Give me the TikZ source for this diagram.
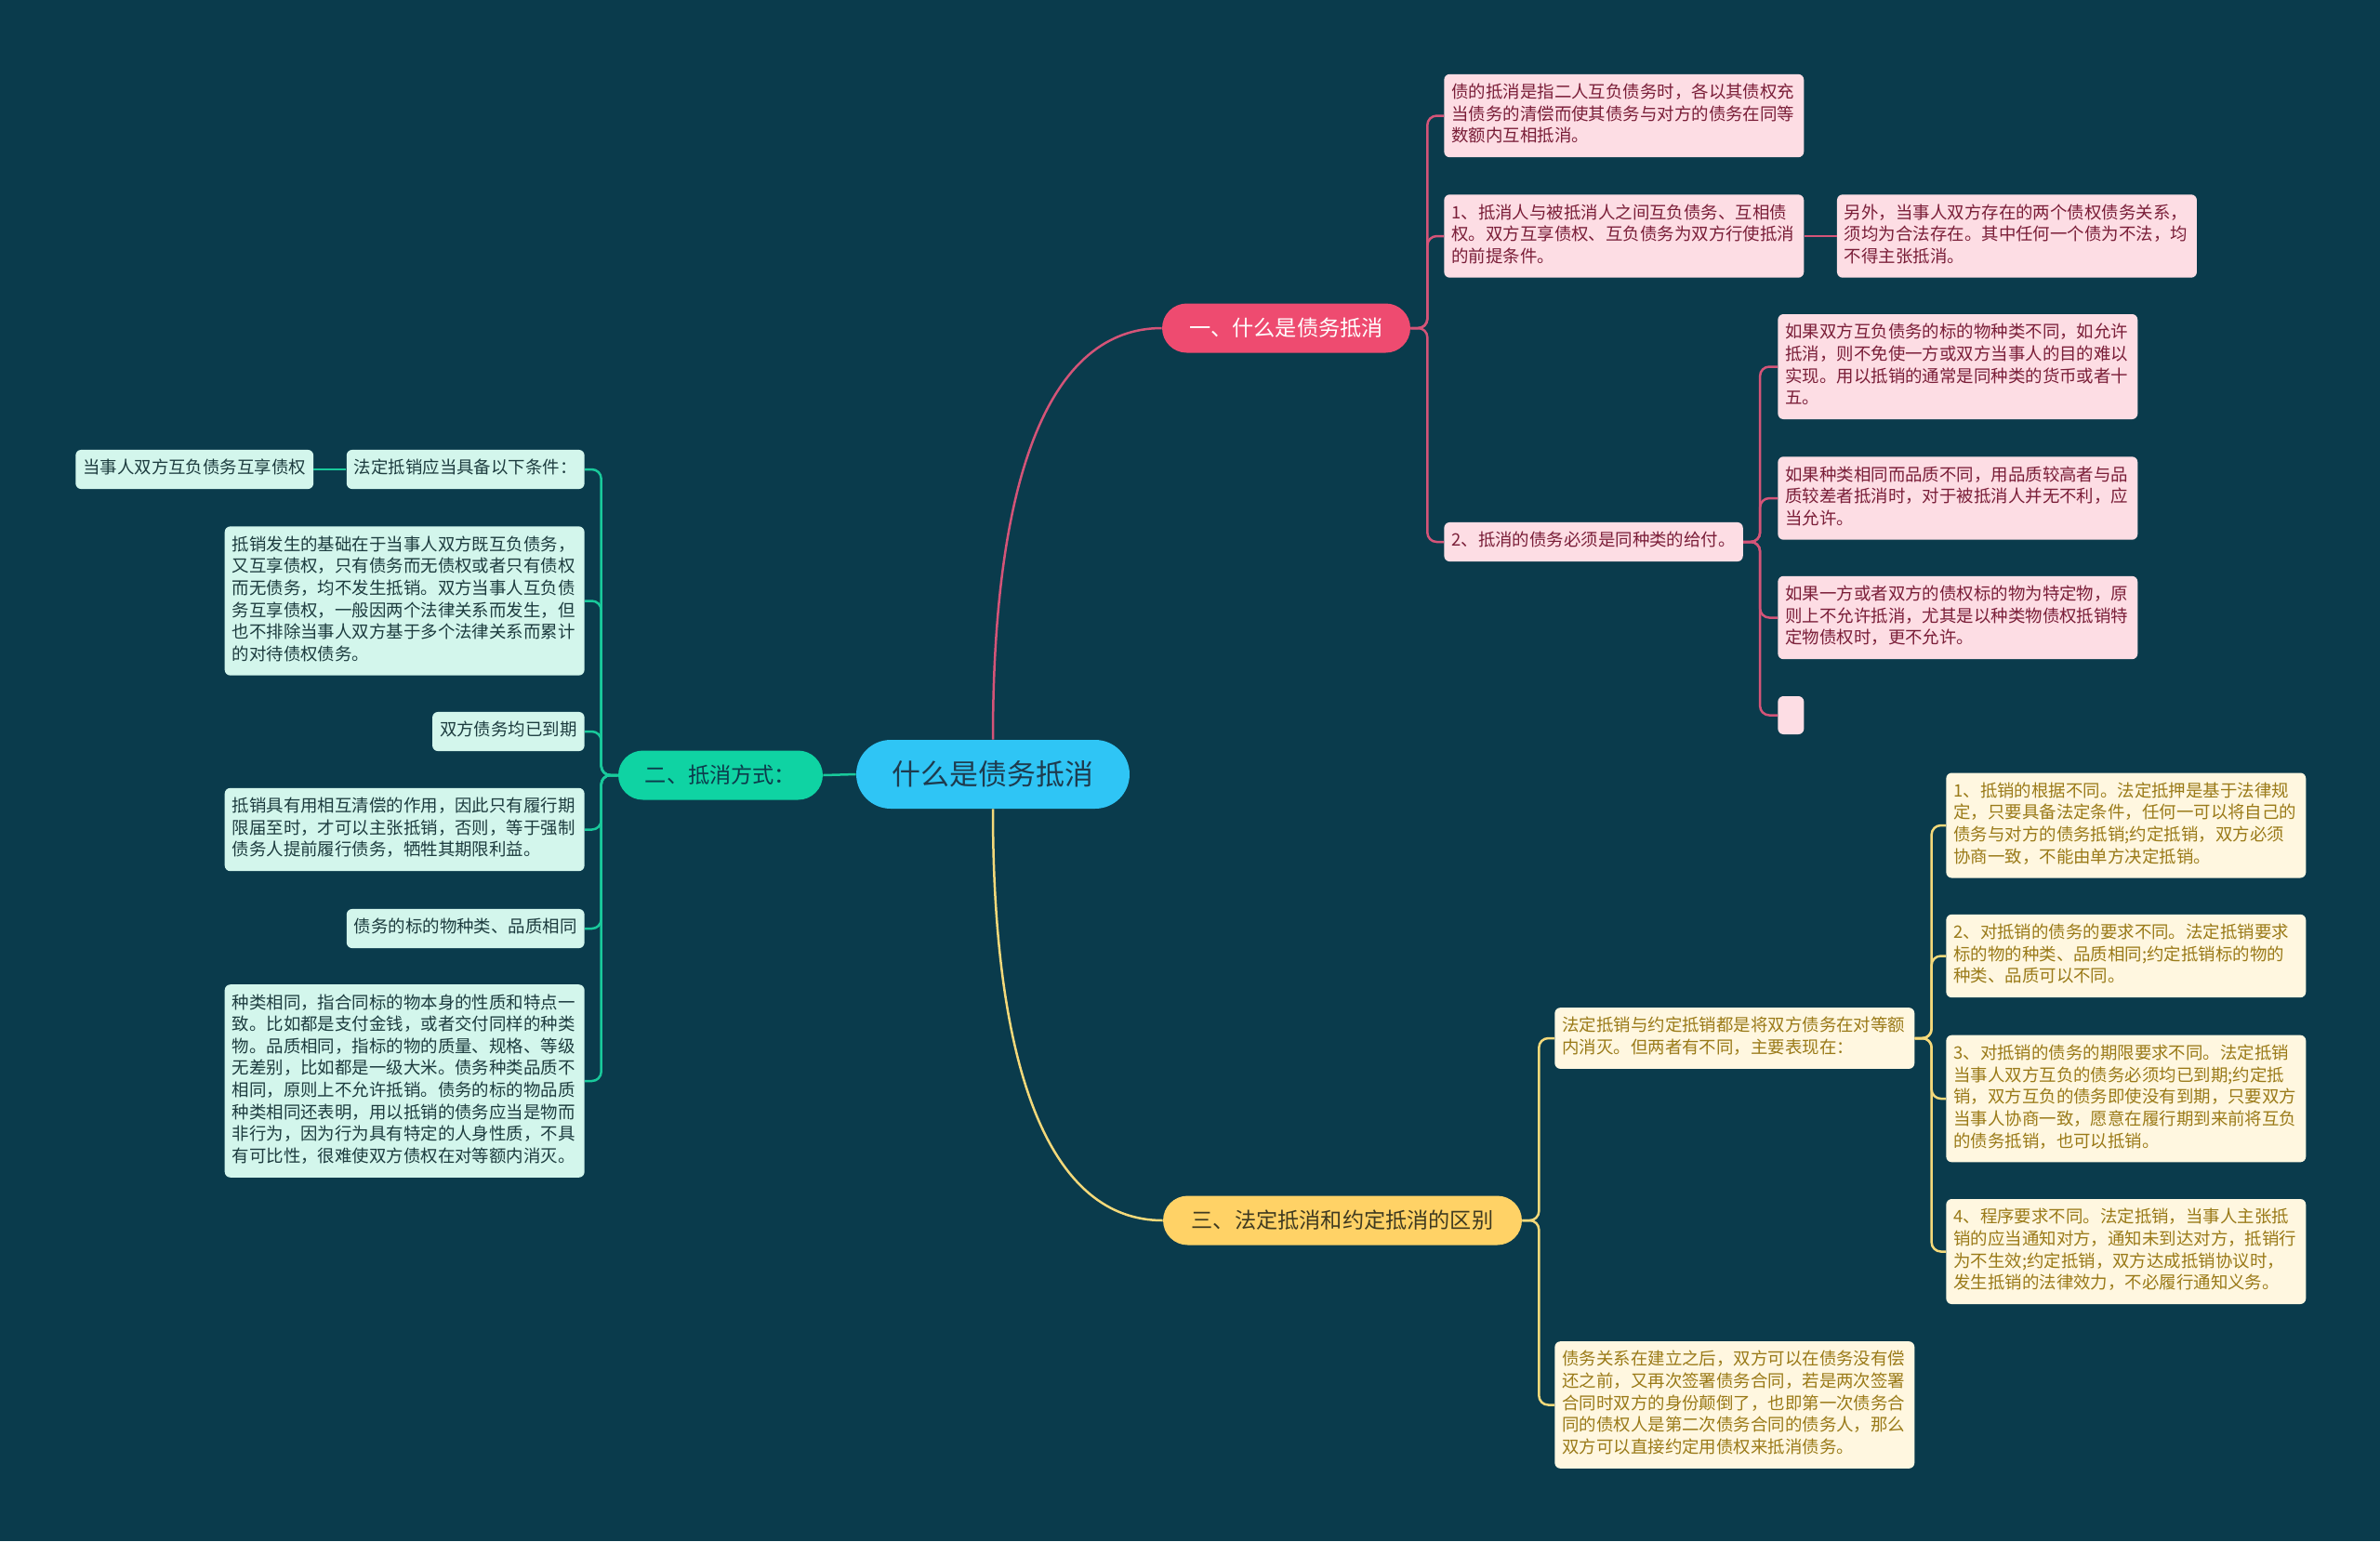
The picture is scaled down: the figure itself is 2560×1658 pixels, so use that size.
\documentclass[tikz,border=0pt]{standalone}
\usepackage{fontspec}
\setmainfont{Noto Sans CJK SC}
\usetikzlibrary{positioning,calc}

\definecolor{bgc}{HTML}{0A3B4C}
\definecolor{rootf}{HTML}{2FC5F5}
\definecolor{roott}{HTML}{1E3B4E}
\definecolor{pinkp}{HTML}{EE4B70}
\definecolor{pinkl}{HTML}{D45478}
\definecolor{pinkbg}{HTML}{FDDDE4}
\definecolor{pinktx}{HTML}{7A1E38}
\definecolor{grnp}{HTML}{0FD3A3}
\definecolor{grnl}{HTML}{19C99B}
\definecolor{grnbg}{HTML}{D3F6EC}
\definecolor{grntx}{HTML}{1D3C3F}
\definecolor{grnptx}{HTML}{0C3B4B}
\definecolor{yelp}{HTML}{FFD266}
\definecolor{yell}{HTML}{F4D97A}
\definecolor{yelbg}{HTML}{FFF7E0}
\definecolor{yeltx}{HTML}{9A7A18}
\definecolor{yelptx}{HTML}{3F3A20}

\begin{document}
\begin{tikzpicture}[
  x=0.02cm, y=-0.02cm,
  leaf/.style={rectangle, rounded corners=0.12cm, inner xsep=0.16cm, inner ysep=0.185cm,
               font=\fontsize{10.5}{13.45}\selectfont, align=left,
               execute at begin node=\strut, execute at end node=\strut},
  wide/.style={text width=7.42cm},
  pinkleaf/.style={leaf, fill=pinkbg, text=pinktx},
  grnleaf/.style={leaf, fill=grnbg, text=grntx},
  yelleaf/.style={leaf, fill=yelbg, text=yeltx},
  pill/.style={rectangle, rounded corners=0.53cm, minimum height=1.06cm, inner sep=0pt,
               font=\fontsize{13.2}{16}\selectfont},
  rootnode/.style={rectangle, rounded corners=0.74cm, minimum height=1.48cm, minimum width=5.88cm,
               inner sep=0pt, fill=rootf, text=roott, font=\fontsize{17.6}{20}\selectfont},
  pinkln/.style={draw=pinkl, line width=0.05cm, rounded corners=0.2cm},
  grnln/.style={draw=grnl, line width=0.05cm, rounded corners=0.2cm},
  yelln/.style={draw=yell, line width=0.05cm, rounded corners=0.2cm}
]
\path[use as bounding box, fill=bgc] (0,0) rectangle (2560,1658);

\node[rootnode] (root) at (1068,833) {什么是债务抵消};
\node[pill, fill=pinkp, text=white, minimum width=5.34cm] (one) at (1383.5,353) {一、什么是债务抵消};
\node[pill, fill=grnp, text=grnptx, minimum width=4.4cm] (two) at (775,834) {二、抵消方式：};
\node[pill, fill=yelp, text=yelptx, minimum width=7.72cm] (three) at (1444,1313) {三、法定抵消和约定抵消的区别};

\node[pinkleaf, wide, anchor=west] (a1) at (1553,124.5)
  {债的抵消是指二人互负债务时，各以其债权充\\当债务的清偿而使其债务与对方的债务在同等\\数额内互相抵消。};
\node[pinkleaf, wide, anchor=west] (a2) at (1553,254)
  {1、抵消人与被抵消人之间互负债务、互相债\\权。双方互享债权、互负债务为双方行使抵消\\的前提条件。};
\node[pinkleaf, wide, right=0.7cm of a2] (a2x)
  {另外，当事人双方存在的两个债权债务关系，\\须均为合法存在。其中任何一个债为不法，均\\不得主张抵消。};
\node[pinkleaf, anchor=west] (b) at (1553,583) {2、抵消的债务必须是同种类的给付。};
\node[pinkleaf, wide, anchor=west] (b1) at (1912,394.5)
  {如果双方互负债务的标的物种类不同，如允许\\抵消，则不免使一方或双方当事人的目的难以\\实现。用以抵销的通常是同种类的货币或者十\\五。};
\node[pinkleaf, wide, anchor=west] (b2) at (1912,536)
  {如果种类相同而品质不同，用品质较高者与品\\质较差者抵消时，对于被抵消人并无不利，应\\当允许。};
\node[pinkleaf, wide, anchor=west] (b3) at (1912,664.5)
  {如果一方或者双方的债权标的物为特定物，原\\则上不允许抵消，尤其是以种类物债权抵销特\\定物债权时，更不允许。};
\node[pinkleaf, anchor=west, inner sep=0pt, minimum width=0.56cm, minimum height=0.82cm] (b4) at (1912,769.5) {};

\node[grnleaf, anchor=east] (l1) at (629,505) {法定抵销应当具备以下条件：};
\node[grnleaf, left=0.7cm of l1] (l0) {当事人双方互负债务互享债权};
\node[grnleaf, wide, anchor=east] (l2) at (629,646.5)
  {抵销发生的基础在于当事人双方既互负债务，\\又互享债权，只有债务而无债权或者只有债权\\而无债务，均不发生抵销。双方当事人互负债\\务互享债权，一般因两个法律关系而发生，但\\也不排除当事人双方基于多个法律关系而累计\\的对待债权债务。};
\node[grnleaf, anchor=east] (l3) at (629,787) {双方债务均已到期};
\node[grnleaf, wide, anchor=east] (l4) at (629,892.5)
  {抵销具有用相互清偿的作用，因此只有履行期\\限届至时，才可以主张抵销，否则，等于强制\\债务人提前履行债务，牺牲其期限利益。};
\node[grnleaf, anchor=east] (l5) at (629,999) {债务的标的物种类、品质相同};
\node[grnleaf, wide, anchor=east] (l6) at (629,1163)
  {种类相同，指合同标的物本身的性质和特点一\\致。比如都是支付金钱，或者交付同样的种类\\物。品质相同，指标的物的质量、规格、等级\\无差别，比如都是一级大米。债务种类品质不\\相同，原则上不允许抵销。债务的标的物品质\\种类相同还表明，用以抵销的债务应当是物而\\非行为，因为行为具有特定的人身性质，不具\\有可比性，很难使双方债权在对等额内消灭。};

\node[yelleaf, wide, anchor=west] (c) at (1672,1117)
  {法定抵销与约定抵销都是将双方债务在对等额\\内消灭。但两者有不同，主要表现在：};
\node[yelleaf, wide, anchor=west] (c1) at (2093,888)
  {1、抵销的根据不同。法定抵押是基于法律规\\定，只要具备法定条件，任何一可以将自己的\\债务与对方的债务抵销;约定抵销，双方必须\\协商一致，不能由单方决定抵销。};
\node[yelleaf, wide, anchor=west] (c2) at (2093,1028.5)
  {2、对抵销的债务的要求不同。法定抵销要求\\标的物的种类、品质相同;约定抵销标的物的\\种类、品质可以不同。};
\node[yelleaf, wide, anchor=west] (c3) at (2093,1182)
  {3、对抵销的债务的期限要求不同。法定抵销\\当事人双方互负的债务必须均已到期;约定抵\\销，双方互负的债务即使没有到期，只要双方\\当事人协商一致，愿意在履行期到来前将互负\\的债务抵销，也可以抵销。};
\node[yelleaf, wide, anchor=west] (c4) at (2093,1346.5)
  {4、程序要求不同。法定抵销，当事人主张抵\\销的应当通知对方，通知未到达对方，抵销行\\为不生效;约定抵销，双方达成抵销协议时，\\发生抵销的法律效力，不必履行通知义务。};
\node[yelleaf, wide, anchor=west] (d) at (1672,1511.5)
  {债务关系在建立之后，双方可以在债务没有偿\\还之前，又再次签署债务合同，若是两次签署\\合同时双方的身份颠倒了，也即第一次债务合\\同的债权人是第二次债务合同的债务人，那么\\双方可以直接约定用债权来抵消债务。};

\draw[pinkln] (root.north) .. controls ($(root.north)+(0,-288)$) and ($(one.west)+(-119,0)$) .. (one.west);
\draw[grnln] (root.west) -- (two.east);
\draw[yelln] (root.south) .. controls ($(root.south)+(0,288)$) and ($(three.west)+(-119,0)$) .. (three.west);

\foreach \k in {a1,a2,b} \draw[pinkln] (one.east) -- ++(18,0) |- (\k.west);
\draw[pinkln] (a2.east) -- (a2x.west);
\foreach \k in {b1,b2,b3,b4} \draw[pinkln] (b.east) -- ++(18,0) |- (\k.west);
\foreach \k in {l1,l2,l3,l4,l5,l6} \draw[grnln] (two.west) -- ++(-18,0) |- (\k.east);
\draw[grnln] (l1.west) -- (l0.east);
\foreach \k in {c,d} \draw[yelln] (three.east) -- ++(18,0) |- (\k.west);
\foreach \k in {c1,c2,c3,c4} \draw[yelln] (c.east) -- ++(18,0) |- (\k.west);
\end{tikzpicture}
\end{document}
